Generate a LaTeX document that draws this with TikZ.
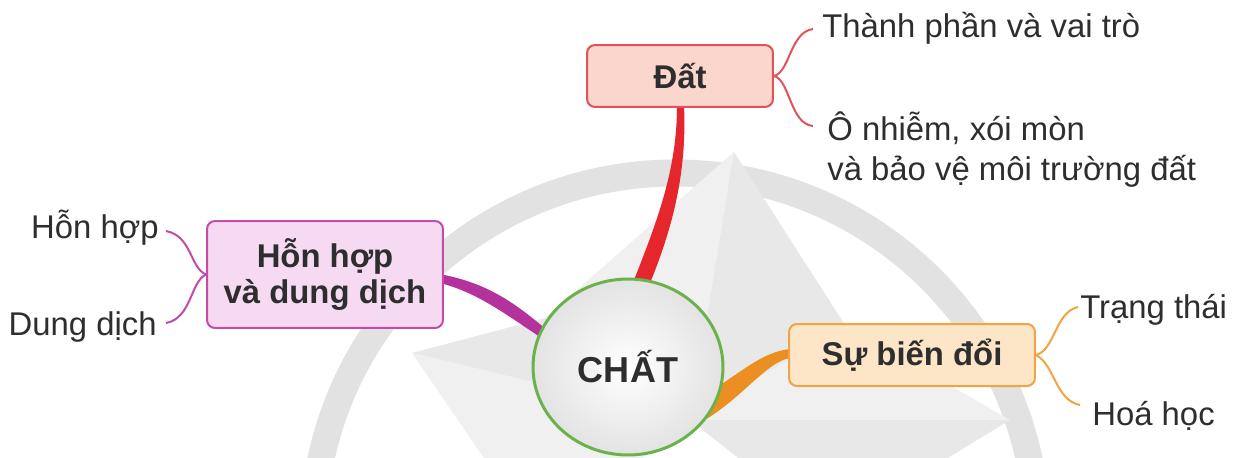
\documentclass[tikz,border=0pt]{standalone}
\usepackage{fontspec}
\setmainfont{Liberation Sans}
\usetikzlibrary{shapes.geometric,calc,backgrounds}

\definecolor{txt}{HTML}{2E2E2E}
\definecolor{redA}{HTML}{E5262D}
\definecolor{redFill}{HTML}{FAD6CD}
\definecolor{redLine}{HTML}{E3525A}
\definecolor{magA}{HTML}{B4329C}
\definecolor{magFill}{HTML}{F6DAF1}
\definecolor{magLine}{HTML}{C24CAA}
\definecolor{oraA}{HTML}{EC8F22}
\definecolor{oraFill}{HTML}{FDE6C8}
\definecolor{oraLine}{HTML}{F0A445}
\definecolor{grnLine}{HTML}{6CB24A}
\definecolor{wmRing}{HTML}{E2E2E2}
\definecolor{wmLight}{HTML}{F0F0F0}
\definecolor{wmDark}{HTML}{E8E8E8}

\begin{document}
\begin{tikzpicture}[x=0.02cm,y=-0.02cm,
  every node/.style={text=txt},
  topic/.style={draw, rounded corners=0.16cm, line width=0.04cm,
    font=\fontsize{18.7}{21}\selectfont\bfseries, align=center, inner sep=0pt},
  leaf/.style={font=\fontsize{18.7}{22.7}\selectfont, inner sep=0pt, align=left},
  twig/.style={line width=0.04cm}]

\useasboundingbox (0,0) rectangle (1236,457);

% central topic
\node[ellipse, draw=grnLine, line width=0.06cm, minimum width=3.8cm,
      minimum height=3.52cm, inner sep=0pt, inner color=white, outer color=gray!22,
      font=\fontsize{20.5}{24}\selectfont\bfseries] (core) at (628,367) {CHẤT};

% main topics
\node[topic, draw=redLine, fill=redFill, minimum width=3.72cm, minimum height=1.24cm]
  (dat) at (680,76) {Đất};
\node[topic, draw=magLine, fill=magFill, minimum width=4.72cm, minimum height=2.14cm]
  (mix) at (325,274.5) {Hỗn hợp\\và dung dịch};
\node[topic, draw=oraLine, fill=oraFill, minimum width=4.92cm, minimum height=1.24cm]
  (spr) at (912,355) {Sự biến đổi};

% subtopics (a two-line node sits on the baseline of its last line)
\node[leaf, anchor=base west] (d1) at (822,37) {Thành phần và vai trò};
\node[leaf, anchor=base west] (d2) at (827,180) {Ô nhiễm, xói mòn\\và bảo vệ môi trường đất};
\node[leaf, anchor=base east] (m1) at (159,238) {Hỗn hợp};
\node[leaf, anchor=base east] (m2) at (157,335) {Dung dịch};
\node[leaf, anchor=base west] (s1) at (1080,318) {Trạng thái};
\node[leaf, anchor=base west] (s2) at (1092,425) {Hoá học};

\begin{scope}[on background layer]
  % faint compass emblem behind the map
  \fill[white] (0,0) rectangle (1236,457);
  \draw[wmRing, line width=0.54cm] (675,535) circle (362);
  \fill[wmLight] (734,152) -- (690,420) -- (545,318) -- cycle;
  \fill[wmDark]  (734,152) -- (690,420) -- (845,325) -- cycle;
  \fill[wmDark]  (412,353) -- (690,420) -- (545,318) -- cycle;
  \fill[wmLight] (412,353) -- (690,420) -- (540,540) -- cycle;
  \fill[wmLight] (1010,420) -- (690,420) -- (845,325) -- cycle;
  \fill[wmDark]  (1010,420) -- (690,420) -- (830,530) -- cycle;

  % tapered main branches
  \fill[redA] ($(core.center)+(4,-82)$) .. controls (657,222) and (677,170) ..
    ($(dat.south)+(-3,-2)$) -- ($(dat.south)+(4,-2)$) .. controls (687,172) and (673,228) ..
    ($(core.center)+(20,-79)$) -- cycle;
  \fill[magA] ($(mix.east)+(-2,0)$) .. controls (485,283) and (512,300) ..
    ($(core.center)+(-80,-36)$) -- ($(core.center)+(-76,-22)$) .. controls (505,314) and (480,294) ..
    ($(mix.east)+(-2,9)$) -- cycle;
  \fill[oraA] ($(core.center)+(84,23)$) .. controls (742,372) and (762,352) ..
    ($(spr.west)+(2,-6)$) -- ($(spr.west)+(2,3)$) .. controls (765,362) and (740,402) ..
    ($(core.center)+(68,58)$) -- cycle;
\end{scope}

% thin branches to subtopics
\draw[twig, redLine] (dat.east) .. controls (790,72) and (790,32) .. ($(d1.base west)+(-9,-8)$);
\draw[twig, redLine] (dat.east) .. controls (790,80) and (790,124) .. ($(d2.base west)+(-14,-54)$);
\draw[twig, magLine] (mix.west) .. controls (190,268) and (192,236) .. ($(m1.base east)+(7,-7)$);
\draw[twig, magLine] (mix.west) .. controls (190,282) and (192,318) .. ($(m2.base east)+(9,-12)$);
\draw[twig, oraLine] (spr.east) .. controls (1055,350) and (1055,312) .. ($(s1.base west)+(-2,-11)$);
\draw[twig, oraLine] (spr.east) .. controls (1055,365) and (1055,400) .. ($(s2.base west)+(-12,-20)$);
\end{tikzpicture}
\end{document}
